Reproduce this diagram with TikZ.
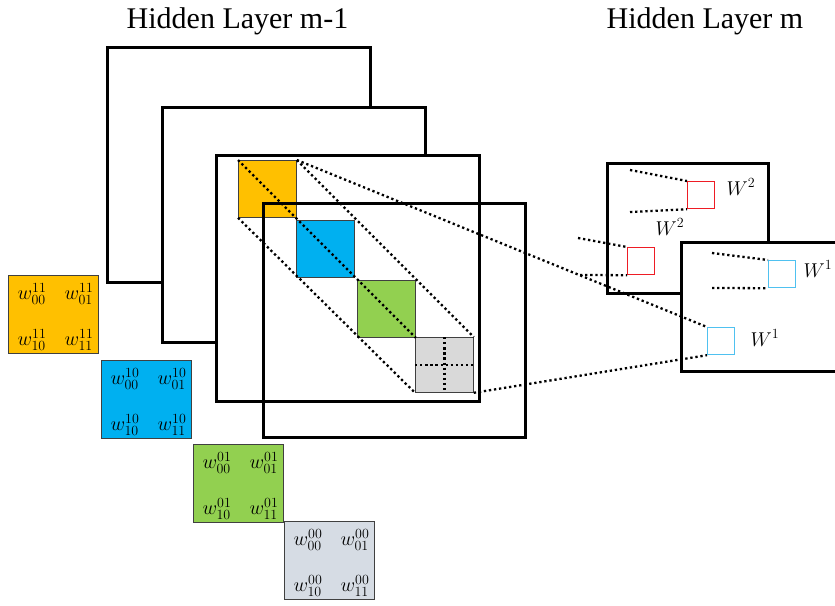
\RequirePackage{fix-cm}
\documentclass[tikz,border=0pt]{standalone}
\usepackage{amsmath}
\usepackage{fontspec}
\setmainfont{Liberation Serif}
\usepackage{tikz}
\usetikzlibrary{calc}
\definecolor{naranja}{HTML}{FFC000}
\definecolor{azul}{HTML}{00B0F0}
\definecolor{verde}{HTML}{92D050}
\definecolor{grisclaro}{HTML}{D9D9D9}
\definecolor{grismat}{HTML}{D6DCE4}
\definecolor{rojo}{HTML}{EE1C24}
\definecolor{celeste}{HTML}{4FC1F0}

\begin{document}
\begin{tikzpicture}[x=1pt,y=-1pt,
    capa/.style={draw, line width=3pt, fill=white},
    celda/.style={draw=black!75, line width=0.8pt, inner sep=0pt, anchor=north west,
        minimum width=58pt, minimum height=57pt},
    peq/.style={line width=1.2pt, inner sep=0pt, anchor=north west, minimum size=27pt},
    pesos/.style={draw=black!75, line width=0.8pt, inner sep=0pt, anchor=north west,
        minimum width=90pt, minimum height=78pt},
    punteada/.style={line width=2.3pt, dash pattern=on 2.3pt off 2.8pt},
    titulo/.style={font=\fontsize{30}{36}\selectfont, anchor=base},
    etiq/.style={font=\fontsize{20}{24}\selectfont, inner sep=1pt},
    etiqw/.style={font=\fontsize{20}{24}\selectfont, inner sep=0pt}]
            \useasboundingbox (0,0) rectangle (835,605);

            % Titulos
            \node[titulo] (t1) at (237.5,28) {Hidden Layer m-1};
            \node[titulo] (t2) at (705,28) {Hidden Layer m};

            % Capa m-1
            \draw[capa] (107,47) rectangle (370,282);
            \draw[capa] (162,107) rectangle (425,342);
            \draw[capa] (216,155) rectangle (479,401);

            % Filtros sobre la capa m-1
            \node[celda, fill=naranja] (n1) at (238,160) {};
            \node[celda, fill=azul] (n2) at (296,220) {};
            \node[celda, fill=verde] (n3) at (357,280) {};
            \node[celda, fill=grisclaro, minimum height=55pt] (n4) at (415,337) {};
            \draw[capa, fill=none] (263,203) rectangle (525,437);

            \draw[punteada] (n4.north) -- (n4.south);
            \draw[punteada] (n4.west) -- (n4.east);
            \draw[punteada] (n1.north west) -- (n3.south east);
            \draw[punteada] (n1.north east) -- (n4.north east);
            \draw[punteada] (n1.south west) -- (n4.south west);

            % Capa m, mapa W^2
            \draw[capa] (607,163) rectangle (768,293);
            \node[peq, draw=rojo] (r1) at (687,181) {};
            \node[peq, draw=rojo] (r2) at (627,247) {};
            \node[etiq] (e1) at (741,187) {$W^2$};
            \node[etiq] (e2) at (670,227) {$W^2$};
            \coordinate (a1) at (630,170);
            \coordinate (a2) at (630,212);
            \coordinate (a3) at (578,238);
            \coordinate (a4) at (580,275);
            \draw[punteada] (a1) -- (r1.north west);
            \draw[punteada] (a2) -- (r1.south west);
            \draw[punteada] (a3) -- (r2.north west);
            \draw[punteada] (a4) -- (r2.south west);

            % Capa m, mapa W^1
            \draw[capa] (681,242) rectangle (845,371);
            \node[peq, draw=celeste] (c1) at (768,260) {};
            \node[peq, draw=celeste] (c2) at (707,327) {};
            \node[etiq] (e3) at (818,269) {$W^1$};
            \node[etiq] (e4) at (765,338) {$W^1$};
            \coordinate (b1) at (712,253);
            \coordinate (b2) at (712,288);
            \draw[punteada] (b1) -- (c1.north west);
            \draw[punteada] (b2) -- (c1.south west);
            \draw[punteada] (n1.north east) -- (c2.north west);
            \draw[punteada] (n4.south east) -- (c2.south west);

            % Matrices de pesos
            \foreach \s/\col/\x/\y in {11/naranja/8/275, 10/azul/101/360,
                                       01/verde/193/444, 00/grismat/284/521} {
                \node[pesos, fill=\col] (m\s) at (\x,\y) {};
                \node[etiqw] (w\s-00) at ({\x+24},{\y+19}) {$w_{00}^{\s}$};
                \node[etiqw] (w\s-01) at ({\x+71},{\y+19}) {$w_{01}^{\s}$};
                \node[etiqw] (w\s-10) at ({\x+24},{\y+65}) {$w_{10}^{\s}$};
                \node[etiqw] (w\s-11) at ({\x+71},{\y+65}) {$w_{11}^{\s}$};
            }
        \end{tikzpicture}
\end{document}
